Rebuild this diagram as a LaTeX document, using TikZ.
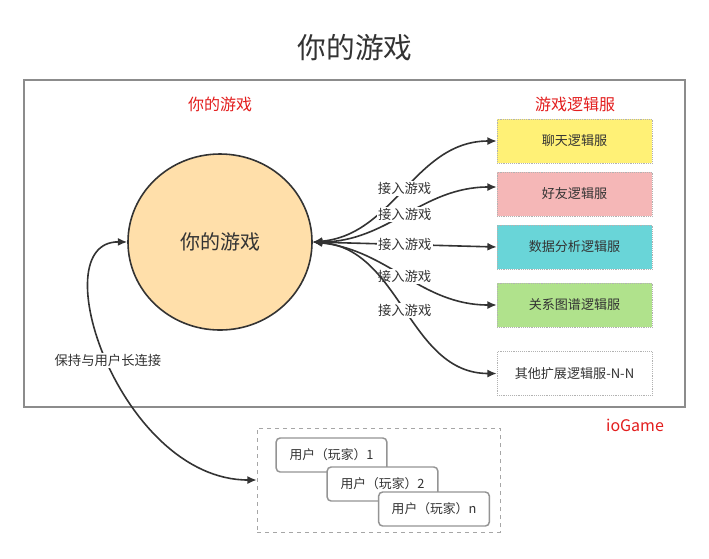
\documentclass[tikz,border=0pt]{standalone}
\usepackage{fontspec}
\setmainfont{Noto Sans CJK SC}
\usetikzlibrary{arrows.meta,shapes.geometric}
\definecolor{txt}{HTML}{333333}
\definecolor{redtxt}{HTML}{E31E1E}
\definecolor{ellfill}{HTML}{FFDFAA}
\definecolor{chatfill}{HTML}{FFF176}
\definecolor{friendfill}{HTML}{F5B7B7}
\definecolor{datafill}{HTML}{69D5D8}
\definecolor{graphfill}{HTML}{B0E28C}
\tikzset{
  srvbox/.style={draw=black!30, densely dotted, minimum width=116.25pt, minimum height=33pt, text=txt, font=\fontsize{9.8pt}{11pt}\selectfont, inner sep=0pt},
  userbox/.style={draw=black!42, line width=1.1pt, rounded corners=3pt, fill=white, minimum width=83pt, minimum height=25.5pt, text=txt, font=\fontsize{9.6pt}{11pt}\selectfont, inner sep=0pt},
  conn/.style={draw=txt, line width=1.2pt, {Latex[length=7pt,width=6pt]}-{Latex[length=7pt,width=6pt]}},
  elab/.style={fill=white, text=txt, font=\fontsize{10pt}{11pt}\selectfont, inner sep=1pt},
  redlab/.style={text=redtxt, font=\fontsize{12pt}{14pt}\selectfont}
}
\begin{document}
\begin{tikzpicture}[x=0.75pt,y=0.75pt]
\useasboundingbox (0,0) rectangle (709,-558);
\fill[white] (0,0) rectangle (709,-558);
\node[text=txt, font=\fontsize{21.5pt}{24pt}\selectfont] (title) at (355,-48) {你的游戏};
\node[draw=black!45, line width=1.5pt, minimum width=496pt, minimum height=245pt, inner sep=0pt] (outer) at (354.5,-243.5) {};
\node[redlab] (lgame) at (220,-104) {你的游戏};
\node[redlab] (lsrv) at (575,-104) {游戏逻辑服};
\node[redlab] (iog) at (635,-425) {ioGame};

\node[ellipse, draw=txt, line width=1.2pt, fill=ellfill, minimum width=138pt, minimum height=132pt, text=txt, font=\fontsize{15pt}{17pt}\selectfont] (game) at (220,-242) {你的游戏};

\node[srvbox, fill=chatfill] (chat) at (574.5,-141) {聊天逻辑服};
\node[srvbox, fill=friendfill] (friend) at (574.5,-194) {好友逻辑服};
\node[srvbox, fill=datafill] (data) at (574.5,-247) {数据分析逻辑服};
\node[srvbox, fill=graphfill] (graph) at (574.5,-305) {关系图谱逻辑服};
\node[srvbox, fill=white] (other) at (574.5,-373.5) {其他扩展逻辑服-N-N};

\node[draw=black!35, dashed, minimum width=182.25pt, minimum height=78pt, inner sep=0pt] (group) at (378.5,-480) {};
\node[userbox] (u1) at (331.5,-455) {用户（玩家）1};
\node[userbox] (u2) at (382.5,-484) {用户（玩家）2};
\node[userbox] (un) at (434,-509) {用户（玩家）n};

\draw[conn] (game.east) to[out=5,in=180] node[elab,pos=0.5] {接入游戏} (chat.west);
\draw[conn] (game.east) to[out=0,in=180] node[elab,pos=0.5] {接入游戏} ([yshift=5.25pt]friend.west);
\draw[conn] (game.east) -- node[elab,pos=0.5] {接入游戏} (data.west);
\draw[conn] (game.east) to[out=-6,in=180] node[elab,pos=0.5] {接入游戏} (graph.west);
\draw[conn] (game.east) to[out=-4,in=180] node[elab,pos=0.5] {接入游戏} (other.west);

\draw[conn] (game.west) .. controls (40,-241) and (120,-480) .. node[elab,pos=0.5] {保持与用户长连接} (group.west);
\end{tikzpicture}
\end{document}
